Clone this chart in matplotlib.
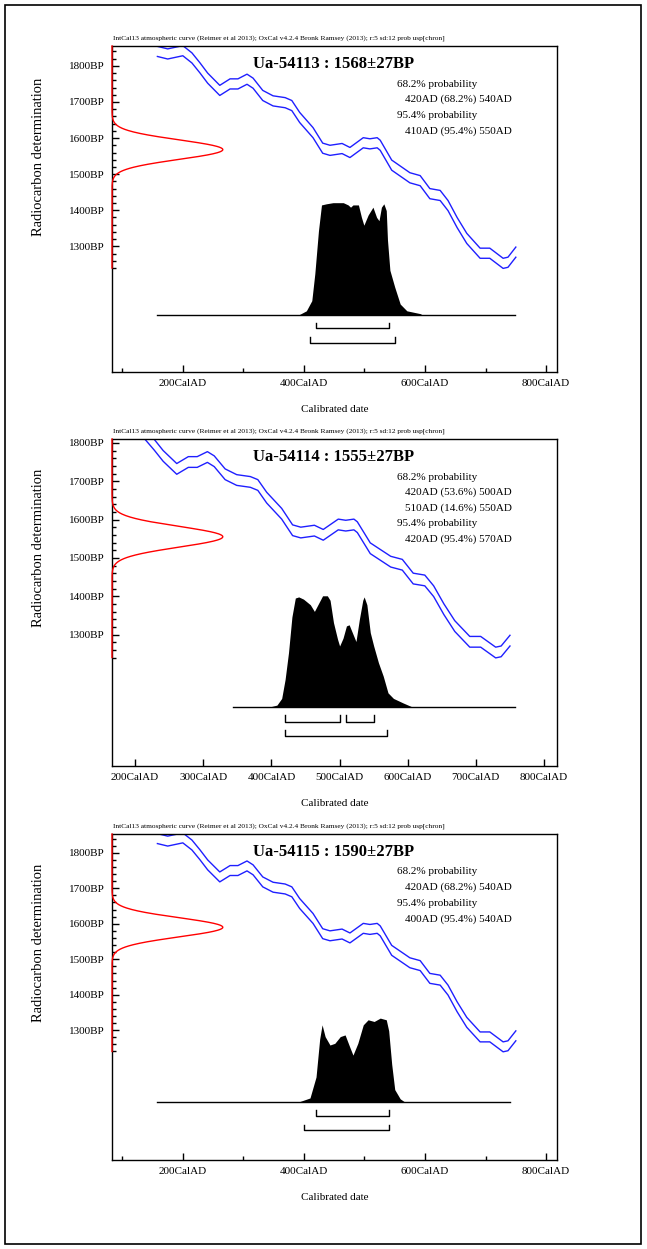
import matplotlib
matplotlib.use("Agg")
import matplotlib.pyplot as plt
import matplotlib.transforms as mtransforms
from matplotlib.patches import Rectangle
import numpy as np

plt.rcParams['font.family'] = ['Liberation Serif', 'DejaVu Serif']

header = ("IntCal13 atmospheric curve (Reimer et al 2013); OxCal v4.2.4 Bronk Ramsey (2013); "
          "r:5 sd:12 prob usp[chron]")

# IntCal13 mean (BP), +/- curve_sd
curve_years = [158, 175, 200, 215, 228, 241, 261, 278, 291, 306, 316, 332, 349, 369, 380,
               393, 415, 431, 443, 463, 476, 498, 509, 521, 526, 545, 575, 592, 608, 625,
               638, 653, 669, 691, 707, 729, 737, 750]
curve_bp = [1840, 1833, 1842, 1822, 1795, 1766, 1732, 1750, 1750, 1763, 1752, 1718, 1703,
            1698, 1690, 1657, 1615, 1572, 1566, 1571, 1560, 1587, 1584, 1587, 1580, 1525,
            1490, 1482, 1446, 1441, 1413, 1366, 1322, 1281, 1281, 1253, 1256, 1284]
curve_sd = 14

labs = ["Ua-54113", "Ua-54114", "Ua-54115"]
ages = [1568, 1555, 1590]
errs = [27, 27, 27]

# posterior distributions (relative probability)
p1_years = [390, 404, 413, 418, 424, 429, 437, 448, 465, 473, 477, 481, 490, 495, 499, 506,
            514, 520, 524, 528, 532, 536, 538, 542, 550, 559, 570, 592, 597]
p1_prob = [0, 0.04, 0.13, 0.37, 0.75, 0.98, 0.99, 1.0, 1.0, 0.98, 0.96, 0.98, 0.98, 0.87,
           0.8, 0.89, 0.96, 0.87, 0.84, 0.96, 0.99, 0.93, 0.67, 0.40, 0.25, 0.10, 0.04, 0.015, 0]
p2_years = [395, 408, 415, 420, 425, 430, 435, 440, 447, 457, 463, 469, 475, 482, 486, 491,
            497, 500, 505, 510, 514, 518, 524, 529, 534, 536, 540, 545, 550, 557, 564, 571,
            579, 593, 608]
p2_prob = [0, 0.02, 0.08, 0.25, 0.49, 0.81, 0.98, 0.99, 0.97, 0.92, 0.86, 0.93, 1.0, 1.0,
           0.96, 0.76, 0.61, 0.55, 0.62, 0.73, 0.74, 0.68, 0.59, 0.79, 0.96, 0.99, 0.92, 0.67,
           0.55, 0.40, 0.28, 0.13, 0.08, 0.04, 0]
p3_years = [390, 410, 420, 426, 430, 435, 443, 451, 460, 468, 476, 481, 489, 498, 506, 516,
            526, 536, 540, 545, 550, 559, 567]
p3_prob = [0, 0.05, 0.3, 0.75, 0.92, 0.78, 0.68, 0.7, 0.78, 0.8, 0.65, 0.56, 0.7, 0.92, 0.98,
           0.96, 1.0, 0.98, 0.85, 0.45, 0.15, 0.04, 0]

# ranges: (from, to, percent)
r68 = [[(420, 540, "68.2%")], [(420, 500, "53.6%"), (510, 550, "14.6%")], [(420, 540, "68.2%")]]
r95 = [[(410, 550, "95.4%")], [(420, 570, "95.4%")], [(400, 540, "95.4%")]]

posts = [(p1_years, p1_prob), (p2_years, p2_prob), (p3_years, p3_prob)]

W, H = 647, 1249
fig = plt.figure(figsize=(W / 100, H / 100), dpi=100)
fig.patches.append(Rectangle((5 / W, 5 / H), 636 / W, 1239 / H, transform=fig.transFigure,
                             fill=False, ec='black', lw=1.2))

# per panel layout: top/bottom pixel, xlim, ylim, x ticks, baseline span, histogram placement
panels = [
    dict(top=46, bot=372, xlim=(83, 818), ylim=(952, 1855), major=[200, 400, 600, 800],
         minor=[100, 300, 500, 700], base_span=(157, 749), base=1109, hh=312, b68=1073, b95=1033),
    dict(top=439, bot=766, xlim=(166, 819), ylim=(957, 1810), major=[200, 300, 400, 500, 600, 700, 800],
         minor=[], base_span=(344, 757), base=1110, hh=291, b68=1073, b95=1036),
    dict(top=834, bot=1160, xlim=(83, 818), ylim=(934, 1853), major=[200, 400, 600, 800],
         minor=[100, 300, 500, 700], base_span=(157, 740), base=1097, hh=237, b68=1058, b95=1018),
]

for i, p in enumerate(panels):
    ax = fig.add_axes([112 / W, 1 - p['bot'] / H, 445 / W, (p['bot'] - p['top']) / H])
    ax.set_xlim(*p['xlim'])
    ax.set_ylim(*p['ylim'])
    for s in ax.spines.values():
        s.set_linewidth(1.0)

    yrs = np.array(curve_years)
    bp = np.array(curve_bp)
    ax.plot(yrs, bp + curve_sd, color='#1f1fff', lw=1.0)
    ax.plot(yrs, bp - curve_sd, color='#1f1fff', lw=1.0)

    # radiocarbon date on the y axis
    trans = mtransforms.blended_transform_factory(ax.transAxes, ax.transData)
    yy = np.linspace(1240, p['ylim'][1], 600)
    gx = 0.249 * np.exp(-0.5 * ((yy - ages[i]) / errs[i]) ** 2)
    ax.plot(gx, yy, color='red', lw=1.0, transform=trans, zorder=5, clip_on=False)

    # posterior
    py, pp = posts[i]
    ax.fill_between(py, p['base'], p['base'] + np.array(pp) * p['hh'], color='black', lw=0)
    ax.plot(p['base_span'], [p['base'], p['base']], color='black', lw=1.0)

    tk = 16
    for a, b, _ in r68[i]:
        ax.plot([a, a, b, b], [p['b68'] + tk, p['b68'], p['b68'], p['b68'] + tk], color='black', lw=1.0)
    for a, b, _ in r95[i]:
        ax.plot([a, a, b, b], [p['b95'] + tk, p['b95'], p['b95'], p['b95'] + tk], color='black', lw=1.0)

    # ticks
    ax.set_xticks(p['major'])
    ax.set_xticklabels([f"{v}CalAD" for v in p['major']])
    ax.set_xticks(p['minor'], minor=True)
    ax.set_yticks(range(1300, 1801, 100))
    ax.set_yticklabels([f"{v}BP" for v in range(1300, 1801, 100)])
    ax.set_yticks(np.arange(1240, p['ylim'][1], 20), minor=True)
    ax.tick_params(which='both', direction='in', labelsize=8, pad=5, width=1.0)
    ax.tick_params(which='major', length=5)
    ax.tick_params(which='minor', length=3)
    ax.tick_params(top=False, right=False)

    ax.set_xlabel("Calibrated date", fontsize=8, labelpad=12)
    ax.text(-0.166, (1240 + p['ylim'][1]) / 2, "Radiocarbon determination", rotation=90,
            fontsize=10.5, ha='center', va='center', transform=trans)

    ax.text(0.497, 0.9316, f"{labs[i]} : {ages[i]}\u00b1{errs[i]}BP", transform=ax.transAxes,
            ha='center', va='baseline', fontsize=12, fontweight='bold')
    ax.text(0.002, 1 + 8 / (p['bot'] - p['top']), header, transform=ax.transAxes,
            ha='left', va='center', fontsize=5.3)

    lines = [("68.2% probability", 0)]
    lines += [(f"{a}AD ({pc}) {b}AD", 1) for a, b, pc in r68[i]]
    lines += [("95.4% probability", 0)]
    lines += [(f"{a}AD ({pc}) {b}AD", 1) for a, b, pc in r95[i]]
    hgt = p['bot'] - p['top']
    for k, (txt, ind) in enumerate(lines):
        ypx = 38 + k * 15.6
        ax.text((397 + 8 * ind - 112) / 445, 1 - ypx / hgt, txt, transform=ax.transAxes,
                ha='left', va='center', fontsize=8)

fig.savefig("out.png", dpi=100)
